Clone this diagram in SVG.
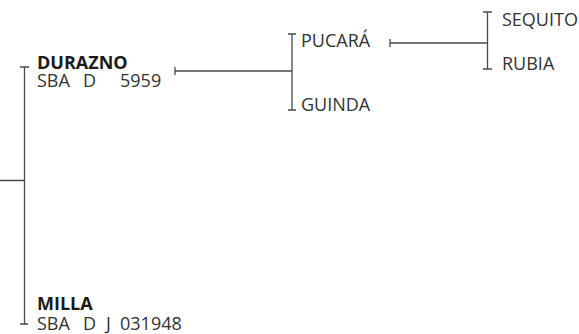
<svg xmlns="http://www.w3.org/2000/svg" width="579" height="334" viewBox="0 0 579 334">
<style>
.ln{stroke:#4a4a4a;stroke-width:1.3;fill:none}
text{font-family:"Open Sans","Noto Sans",sans-serif;font-size:18px;fill:#333}
.b{font-weight:bold;fill:#1a1a1a}
</style>
<rect width="579" height="334" fill="#fff"/>
<g id="connectors">
<path class="ln" d="M0 180.5H24.5M24.5 67V324M20 67H29M20 324H28"/>
<path class="ln" d="M175 71H292M175 67V75M292 34V110M288 34H296M288 110H296"/>
<path class="ln" d="M390 43H487.5M390 39V47M487.5 12V69M483 12H492M483 69H492"/>
</g>
<g id="durazno"><text class="b" x="37" y="69">DURAZNO</text><text y="87"><tspan x="37">SBA</tspan><tspan x="83">D</tspan><tspan x="120">5959</tspan></text></g>
<g id="milla"><text class="b" x="37" y="310">MILLA</text><text y="330"><tspan x="37">SBA</tspan><tspan x="83">D</tspan><tspan x="106">J</tspan><tspan x="120">031948</tspan></text></g>
<g id="pucara"><text x="301" y="47">PUCARÁ</text></g>
<g id="guinda"><text x="301" y="111">GUINDA</text></g>
<g id="sequito"><text x="502" y="26">SEQUITO</text></g>
<g id="rubia"><text x="502" y="70">RUBIA</text></g>
</svg>
